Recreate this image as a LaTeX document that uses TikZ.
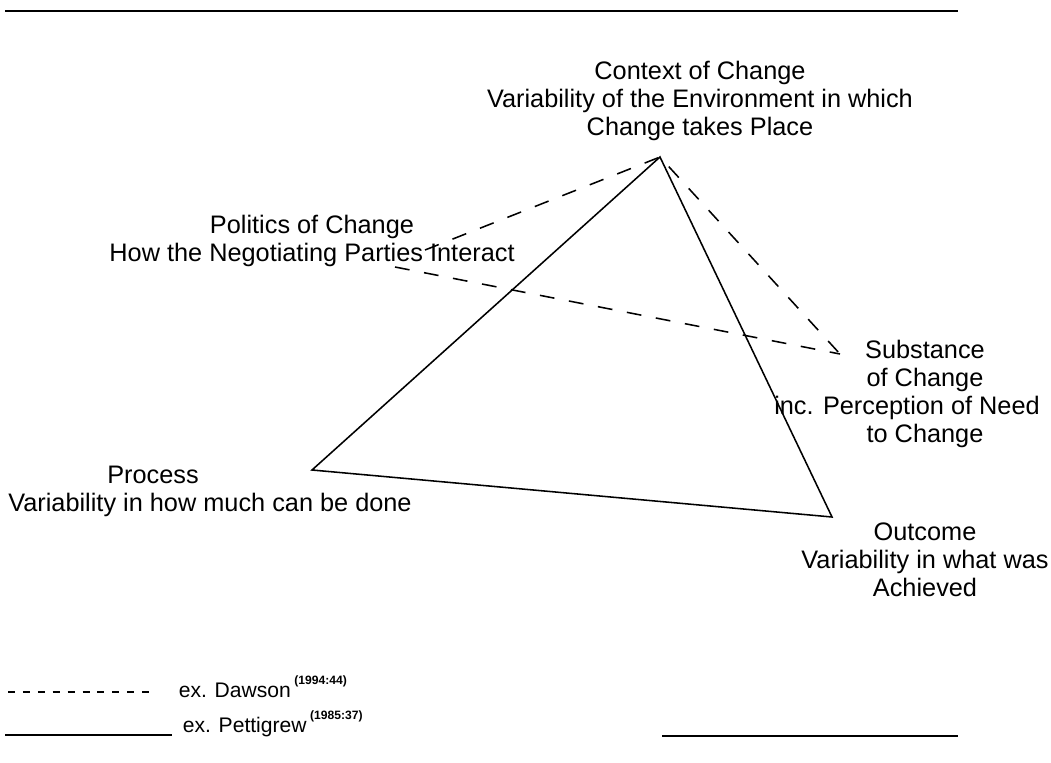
\documentclass[tikz,border=0pt]{standalone}
\usepackage{fontspec}
\setmainfont{Liberation Sans}
\usepackage{amsmath}
\usetikzlibrary{arrows}

\begin{document}
\begin{tikzpicture}[line width=1.1pt,x=0.025cm,y=-0.025cm]
      \tikzstyle{every node} = [inner sep = 0pt, font=\fontsize{18}{19.85}\selectfont];
      \tikzstyle{corner} = [anchor=base, align=center];
      \tikzstyle{dawson} = [dash pattern=on 10.5pt off 10.5pt];
      \tikzstyle{keytext} = [anchor=base west, font=\fontsize{15}{18}\selectfont];
      \useasboundingbox (0,0) rectangle (1051,762);
      % rules above and below
      \coordinate (ruletl) at (5,11);
      \coordinate (ruletr) at (958,11);
      \coordinate (rulebl) at (662,736);
      \coordinate (rulebr) at (958,736);
      \draw[line width=1.6pt] (ruletl) -- (ruletr);
      \draw[line width=1.6pt] (rulebl) -- (rulebr);
      % corners of the two triangles
      \coordinate (context) at (660,157);
      \coordinate (process) at (312,470);
      \coordinate (outcome) at (832,517);
      \coordinate (politicsup) at (425,250);
      \coordinate (politicslow) at (395,267);
      \coordinate (substance) at (840,354);
      % Pettigrew
      \draw (context) -- (process) -- (outcome) -- cycle;
      % Dawson
      \draw[dawson] (politicsup) -- (context) -- (substance);
      \draw[dawson] (politicslow) -- (substance);
      % texts at the corners (anchored on their last line)
      \node(contexttext) [corner] at (700,135)
        {Context of Change\\Variability of the Environment in which\\Change takes Place};
      \node(politicstext) [corner] at (312,261)
        {Politics of Change\\How the Negotiating Parties Interact};
      \node(substancetext) [corner] at (925,442)
        {Substance\\of Change\\\hbox{inc. Perception of Need\kern0.9cm}\\to Change};
      \node(processtext) [corner] at (210,511)
        {\hbox{Process\kern2.85cm}\\Variability in how much can be done};
      \node(outcometext) [corner] at (925,596)
        {Outcome\\Variability in what was\\Achieved};
      % key
      \coordinate (keydawsonl) at (8,692);
      \coordinate (keydawsonr) at (157,692);
      \coordinate (keypettil) at (5,735);
      \coordinate (keypettir) at (172,735);
      \draw[line width=0.8pt, dash pattern=on 5pt off 5.6pt] (keydawsonl) -- (keydawsonr);
      \draw[line width=1.1pt] (keypettil) -- (keypettir);
      \node(keydawson) [keytext] at (178,697)
        {ex. Dawson\,\raisebox{9pt}{\fontsize{8.6}{10}\selectfont\bfseries(1994:44)}};
      \node(keypetti) [keytext] at (182,732)
        {ex. Pettigrew\,\raisebox{9pt}{\fontsize{8.6}{10}\selectfont\bfseries(1985:37)}};
    \end{tikzpicture}
\end{document}
